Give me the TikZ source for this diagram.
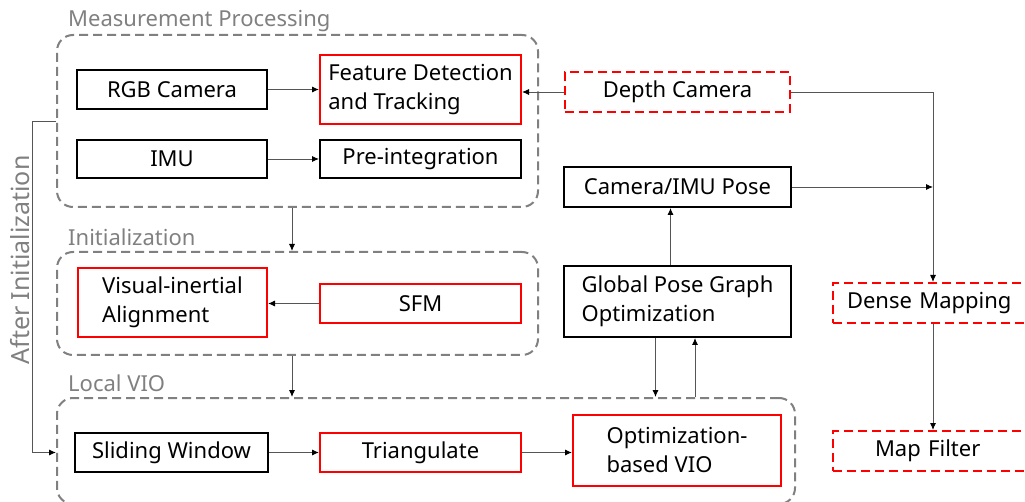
\documentclass[tikz,border=0pt]{standalone}
\usepackage{fontspec}
\setmainfont{Noto Sans}
\usetikzlibrary{arrows.meta,positioning,calc}
\definecolor{grpgray}{HTML}{808080}
\definecolor{linkgray}{HTML}{555555}
\tikzset{font=\fontsize{22}{29}\selectfont}
\tikzset{
  blkbox/.style={draw=black, line width=2pt, inner sep=2pt, align=left},
  redbox/.style={draw=red, line width=2pt, inner sep=2pt, align=left},
  reddash/.style={draw=red, line width=2pt, dash pattern=on 9pt off 5pt, inner sep=2pt},
  group/.style={draw=grpgray, line width=2pt, dash pattern=on 9pt off 5pt, rounded corners=16pt},
  grouptitle/.style={text=grpgray, inner sep=0pt},
  link/.style={draw=linkgray, line width=0.9pt, -{Latex[length=7pt,width=6pt,color=black]}}
}
\begin{document}
\begin{tikzpicture}[x=1pt,y=-1pt]
\clip (0,0) rectangle (1025,502);
% groups
\node[group, minimum width=481, minimum height=172] (mp) at (297.5,121) {};
\node[group, minimum width=481, minimum height=103] (init) at (297.5,303.5) {};
\node[group, minimum width=738, minimum height=106] (lvio) at (426,451) {};
\node[grouptitle, anchor=base west] (mptitle) at (68,27) {Measurement Processing};
\node[grouptitle, anchor=base west] (inittitle) at (68,246) {Initialization};
\node[grouptitle, anchor=base west] (lviotitle) at (68,391) {Local VIO};
\node[grouptitle, rotate=90, font=\fontsize{25}{29}\selectfont] (ailbl) at (20,260) {After Initialization};
% measurement processing
\node[blkbox, minimum width=190, minimum height=39] (rgb) at (172,89.5) {RGB Camera};
\node[redbox, minimum width=201, minimum height=69] (feat) at (420.5,89.5) {Feature Detection\\and Tracking};
\node[blkbox, minimum width=190, minimum height=38] (imu) at (172,159) {IMU};
\node[blkbox, minimum width=201, minimum height=38] (preint) at (420.5,159) {Pre-integration};
% initialization
\node[redbox, minimum width=189, minimum height=69] (via) at (172.5,302.5) {Visual-inertial\\Alignment};
\node[redbox, minimum width=201, minimum height=39] (sfm) at (420.5,303.5) {SFM};
% local vio
\node[blkbox, minimum width=193, minimum height=39] (slide) at (171.5,452.5) {Sliding Window};
\node[redbox, minimum width=201, minimum height=39] (tri) at (420.5,452.5) {Triangulate};
\node[redbox, minimum width=208, minimum height=71] (optvio) at (677,450.5) {Optimization-\\based VIO};
% right column
\node[reddash, minimum width=225, minimum height=40] (depth) at (677.5,92) {Depth Camera};
\node[blkbox, minimum width=227, minimum height=40] (pose) at (677.5,187) {Camera/IMU Pose};
\node[blkbox, minimum width=227, minimum height=71] (gpgo) at (677.5,301.5) {Global Pose Graph\\Optimization};
\node[reddash, minimum width=200, minimum height=40, text width=180, align=left] (dense) at (933,303) {\hspace{4pt}Dense Mapping};
\node[reddash, minimum width=200, minimum height=40, text width=180, align=left] (mapf) at (933,451) {\hspace{32pt}Map Filter};
% connectors
\draw[link] (rgb.east) -- (rgb.east -| feat.west);
\draw[link] (imu.east) -- (preint.west);
\draw[link] (depth.west) -- (depth.west -| feat.east);
\draw[link] (depth.east) -| (dense.north);
\draw[link] (pose.east) -- (pose.east -| dense.north);
\draw[link] ([xshift=-7pt]gpgo.north) -- ([xshift=-7pt]pose.south);
\draw[link] ([xshift=-5.5pt]mp.south) -- ([xshift=-5.5pt]init.north);
\draw[link] ([xshift=-5.5pt]init.south) -- ([xshift=-5.5pt]init.south |- lvio.north);
\draw[link] ([xshift=-22pt]gpgo.south) -- ([xshift=-22pt]gpgo.south |- lvio.north);
\draw[link] ([xshift=17.5pt]gpgo.south |- lvio.north) -- ([xshift=17.5pt]gpgo.south);
\draw[link] (sfm.west) -- (sfm.west -| via.east);
\draw[link] (slide.east) -- (tri.west);
\draw[link] (tri.east) -- (tri.east -| optvio.west);
\draw[link] (dense.south) -- (mapf.north);
\draw[link] (mp.west) -- ++(-24,0) |- (slide.west -| lvio.west);
\end{tikzpicture}
\end{document}
